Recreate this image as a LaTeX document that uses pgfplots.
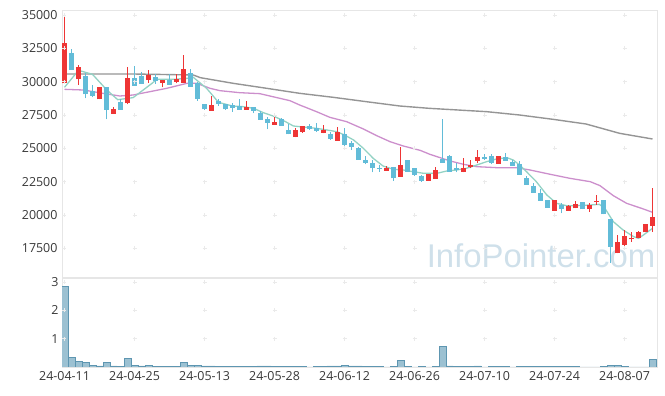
\documentclass[border=0pt]{standalone}
\usepackage{pgfplots}
\pgfplotsset{compat=1.18}
\usepackage{pgfplotstable}
\usepackage{fontspec}
\setmainfont{Open Sans}
\newfontfamily\wmfont{Liberation Sans}
\newcommand\tickfont{\fontsize{12.5}{14}\selectfont}
\definecolor{upc}{HTML}{EE3535}
\definecolor{dnc}{HTML}{62BCD8}
\definecolor{maA}{HTML}{93D2C4}
\definecolor{maB}{HTML}{CC8FCC}
\definecolor{maC}{HTML}{959595}
\definecolor{volfill}{HTML}{9CC1D2}
\definecolor{voledge}{HTML}{5E96B1}
\definecolor{wm}{HTML}{CFE0EA}
\definecolor{gridc}{HTML}{EAEAEA}
\definecolor{framec}{HTML}{E6E6E6}

\pgfplotstableread{
i O H L C
0 29875 34825 29875 32875
2 30175 31250 29750 31075
5 28675 29575 28675 29575
7 27575 28075 27575 27950
9 28375 31075 28300 30250
12 30125 30875 29925 30475
14 29925 30100 29575 30100
16 30000 30550 29875 30200
17 29925 31975 29925 30950
21 27825 28925 27825 28250
26 27875 28550 27875 28075
30 26750 27425 26750 27000
33 25875 26500 25825 26375
34 26250 26675 26175 26675
37 26175 26750 26125 26375
39 25575 26575 25575 26200
46 23325 23675 23325 23525
48 22875 25125 22875 23750
52 22575 23050 22575 23050
53 22700 23625 22700 23375
57 23250 24250 23200 23550
58 23575 24125 23500 23750
59 24050 24875 23875 24325
62 23825 24425 23825 24425
70 20325 21125 20325 21125
72 20325 20750 20325 20700
73 20500 21075 20500 20825
75 20425 20875 20250 20750
76 21000 21500 20750 21075
79 17125 18500 17125 18000
80 17750 18875 17700 18450
81 18175 18750 18000 18300
82 18250 18800 18250 18750
83 18700 19300 18700 19300
84 19175 22000 18750 19850
}\upT

\pgfplotstableread{
i O H L C
1 32125 32425 30875 30875
3 30425 30675 28750 29050
4 29300 29750 28825 28925
6 29575 29575 27175 27875
8 28500 28675 27875 27875
10 30250 31175 29675 29675
11 30425 30750 29825 29825
13 30375 30550 29825 30050
15 30125 30550 29750 29750
18 30675 30925 29625 29625
19 29875 30000 28575 28700
20 28300 28300 27875 27925
22 28550 28675 28200 28325
23 28300 28300 27875 27925
24 28225 28375 27750 28050
25 28175 28675 27875 27875
27 28075 28125 27625 27825
28 27675 27825 27125 27125
29 27200 27375 26425 26925
31 27200 27250 26700 26700
32 26375 26825 26050 26050
35 26675 26825 26375 26425
36 26500 26925 26250 26325
38 26075 26250 25625 25700
40 26075 26500 25075 25250
41 25425 25575 24875 25125
42 25050 25125 24125 24125
43 24125 24425 23800 23925
44 23875 24125 23200 23500
45 23525 23750 23250 23475
47 23575 23625 22575 22750
49 24125 24125 23250 23250
50 23500 23500 22950 23000
51 22950 23000 22500 22575
54 24175 27200 23925 23925
55 24450 24500 23250 23250
56 23500 23875 23200 23375
60 24375 24575 24125 24200
61 24450 24575 23800 23925
63 24325 24625 24050 24050
64 24000 24125 23675 23675
65 23825 24075 23000 23000
66 22800 22925 22250 22250
67 22175 22375 21675 21675
68 21625 21950 21050 21050
69 21125 21125 20550 20550
71 20750 20875 20125 20450
74 20950 20950 20425 20425
77 21125 21125 20050 20050
78 19700 19700 16400 17600
}\dnT

\pgfplotstableread{
i V
0 2.85
1 0.345
2 0.20
3 0.17
4 0.06
5 0.04
6 0.17
7 0.04
8 0.01
9 0.31
10 0.06
11 0.04
12 0.06
13 0.01
14 0.01
15 0.01
16 0.01
17 0.17
18 0.06
19 0.06
20 0.04
21 0.04
22 0.01
23 0.01
24 0.01
25 0.01
26 0.01
27 0.01
28 0.04
29 0.04
30 0.01
31 0.01
32 0.01
33 0.01
34 0.01
35 0.002
36 0.01
37 0.01
38 0.04
39 0.04
40 0.06
41 0.04
42 0.04
43 0.01
44 0.01
45 0.01
46 0.002
47 0.01
48 0.24
49 0.01
50 0.002
51 0.01
52 0.002
53 0.01
54 0.74
55 0.04
56 0.01
57 0.01
58 0.01
59 0.04
60 0.002
61 0.01
62 0.01
63 0.01
64 0.002
65 0.01
66 0.01
67 0.01
68 0.01
69 0.01
70 0.01
71 0.01
72 0.01
73 0.01
74 0.002
75 0.002
76 0.002
77 0.01
78 0.06
79 0.06
80 0.01
81 0.002
82 0.002
83 0.002
84 0.27
}\volT

\begin{document}
\begin{tikzpicture}
\path[use as bounding box] (0,0) rectangle (665bp,396bp);
\begin{axis}[
  at={(62bp,119bp)}, anchor=south west, scale only axis,
  width=595bp, height=267bp,
  xmin=-0.357, xmax=84.64, ymin=15350, ymax=35375,
  xtick={0,10,...,80}, xticklabels={},
  ytick={17500,20000,...,35000},
  scaled y ticks=false,
  axis line style={draw=framec},
  major tick length=0pt,
  tick label style={font=\tickfont, text=black!78},
  y tick label style={/pgf/number format/1000 sep={}, /pgf/number format/assume math mode=true, xshift=-1bp},
]
\pgfplotsinvokeforeach{0,10,...,80}{
  \addplot[only marks, mark=+, mark size=2bp, color=gridc, forget plot]
    coordinates {(#1,17500)(#1,20000)(#1,22500)(#1,25000)(#1,27500)(#1,30000)(#1,32500)(#1,35000)};
}
\node[font={\wmfont\fontsize{33}{36}\selectfont}, text=wm] at (rel axis cs:0.805,0.079) {InfoPointer.com};

% moving averages
\addplot[maC, line width=1.4bp] coordinates {
(0,30575) (9.8,30575) (18.4,30500) (19.4,30300) (24.1,29875) (28.9,29500) (33.6,29125) (38.4,28825) (43.1,28500) (47.9,28175) (52.1,28000) (60.3,27750) (65,27500) (69.8,27175) (74.5,26825) (79.3,26125) (84,25700)};
\addplot[maB, line width=1.3bp] coordinates {
(0,29425) (2.7,29375) (5.5,29125) (7.9,28925) (9.8,29000) (12.2,29250) (14.6,29500) (17.5,29875) (18.9,29875) (20.8,29500) (22.2,29325) (25,29175) (27.9,29100) (32.2,28575) (33.6,28250) (36,27750) (37.9,27325) (40.3,27000) (42.7,26450) (44.6,25950) (46.5,25500) (48.4,25175) (50.8,24850) (52.2,24550) (55.1,24050) (57,23800) (58.9,23625) (61.7,23550) (64.6,23550) (66.5,23375) (69.4,23050) (72.2,22750) (75.1,22500) (76.5,22200) (78.4,21450) (80.3,20875) (82.7,20450) (84,20200)};
\addplot[maA, line width=1.3bp] coordinates {
(0,29575) (2,30850) (4,30550) (6,29400) (7.6,28650) (9.8,28800) (12.5,29875) (13.2,30175) (15.6,30175) (17.5,30250) (18.4,30325) (20.3,29500) (22,28450) (24,28175) (25.5,28125) (27,28000) (28.4,27675) (29.8,27425) (31.3,27075) (32.7,26675) (33.6,26625) (36,26500) (37.5,26375) (38.9,26250) (40,26000) (41.3,25625) (42.7,25000) (44.1,24250) (45.5,23675) (47,23425) (48.4,23375) (49.8,23250) (51.3,23125) (53.2,23125) (54.6,23300) (56,23375) (57.4,23500) (58.9,23750) (60.3,24000) (61.7,24200) (63.2,24300) (64.1,24125) (65,23750) (66,23250) (67.4,22500) (68.9,21500) (70.3,20875) (71.7,20700) (73.2,20700) (75.1,20750) (76.4,20800) (77.2,20500) (78.4,19500) (79.8,18875) (81.3,18375) (82,18250) (82.7,18500) (84,19000)};

% wicks
\addplot[draw=none, mark=none, error bars/.cd, y dir=plus, y explicit, error mark=none,
  error bar style={draw=upc, line width=1.1bp}]
  table[x=i, y=L, y error plus expr=\thisrow{H}-\thisrow{L}] {\upT};
\addplot[draw=none, mark=none, error bars/.cd, y dir=plus, y explicit, error mark=none,
  error bar style={draw=dnc, line width=1.1bp}]
  table[x=i, y=L, y error plus expr=\thisrow{H}-\thisrow{L}] {\dnT};
% bodies
\addplot[draw=none, mark=none, error bars/.cd, y dir=plus, y explicit, error mark=none,
  error bar style={draw=upc, line width=4.8bp}]
  table[x=i, y=O, y error plus expr=\thisrow{C}-\thisrow{O}] {\upT};
\addplot[draw=none, mark=none, error bars/.cd, y dir=plus, y explicit, error mark=none,
  error bar style={draw=dnc, line width=4.8bp}]
  table[x=i, y=C, y error plus expr=\thisrow{O}-\thisrow{C}] {\dnT};
\end{axis}

\begin{axis}[
  at={(62bp,29bp)}, anchor=south west, scale only axis,
  width=595bp, height=89bp,
  xmin=-0.357, xmax=84.64, ymin=0, ymax=3.14,
  xtick={0,10,...,80},
  xticklabels={24-04-11,24-04-25,24-05-13,24-05-28,24-06-12,24-06-26,24-07-10,24-07-24,24-08-07},
  ytick={1,2,3},
  axis line style={draw=framec},
  major tick length=0pt,
  tick label style={font=\tickfont, text=black!78},
  y tick label style={/pgf/number format/assume math mode=true},
  xticklabel style={yshift=-1bp},
]
\pgfplotsinvokeforeach{0,10,...,80}{
  \addplot[only marks, mark=+, mark size=2bp, color=gridc, forget plot]
    coordinates {(#1,1)(#1,2)(#1,3)};
}
\addplot[ybar, bar width=1, bar shift=0pt, fill=volfill, draw=voledge, line width=0.6bp]
  table[x=i, y=V] {\volT};
\node[rotate=90, font=\tickfont, text=black!78] at (rel axis cs:-0.0504,0.506) {10\textsuperscript{6}};
\end{axis}
\end{tikzpicture}
\end{document}
